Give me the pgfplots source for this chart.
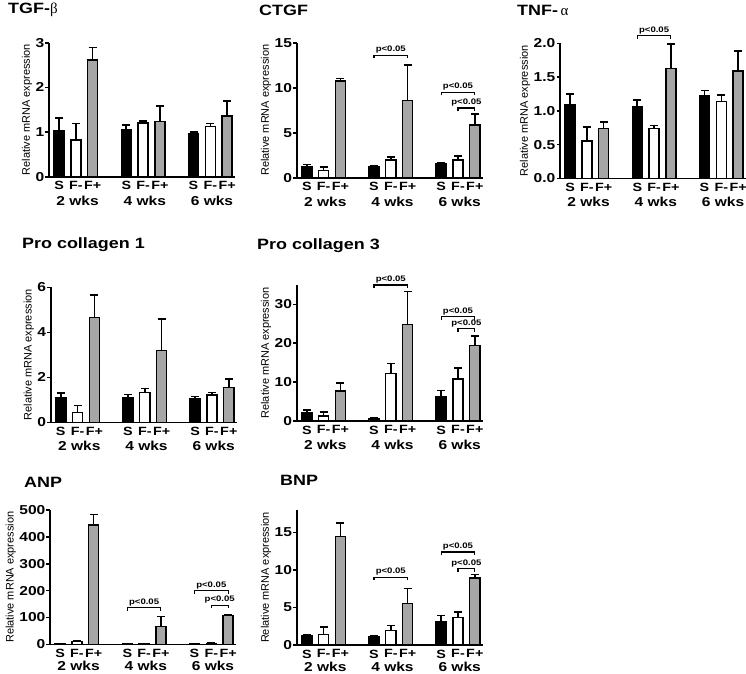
\documentclass[border=0pt]{standalone}
\usepackage{pgfplots}
\pgfplotsset{compat=1.18}
\usepackage{fontspec}
\setmainfont{Liberation Sans}
\newfontfamily\wide{Liberation Sans}[FakeStretch=1.2]
\newfontfamily\greek{Liberation Serif}
\definecolor{barg}{RGB}{166,166,166}

\newcommand{\sig}[4]{%
 \draw[line width=1.1bp] ([yshift=-3bp]axis cs:#1,#4) -- (axis cs:#1,#4) -- (axis cs:#2,#4) -- ([yshift=-3bp]axis cs:#2,#4);
 \node[font=\wide\bfseries\fontsize{8}{9}\selectfont, anchor=south, inner sep=1.5bp] at (axis cs:#3,#4) {p<0.05};}
\newcommand{\wks}[1][-24bp]{%
 \node[font=\wide\bfseries\fontsize{13}{14}\selectfont, inner sep=1bp] at (axis cs:1.1,0) [yshift=#1] {2 wks};
 \node[font=\wide\bfseries\fontsize{13}{14}\selectfont, inner sep=1bp] at (axis cs:5.1,0) [yshift=#1] {4 wks};
 \node[font=\wide\bfseries\fontsize{13}{14}\selectfont, inner sep=1bp] at (axis cs:9.1,0) [yshift=#1] {6 wks};}

\pgfplotsset{
 panel/.style={
  scale only axis, width=186bp, anchor=south west,
  axis x line*=bottom, axis y line*=left,
  axis line style={-, line width=1.6bp, black},
  xmin=-0.6, xmax=10.47, ymin=0, enlargelimits=false, clip=false,
  xtick={0,1,2,4,5,6,8,9,10},
  xticklabels={S,F-,F+,S,F-,F+,S,F-,F+},
  xtick style={draw=none},
  xticklabel style={font=\wide\bfseries\fontsize{12}{13}\selectfont, inner sep=1bp},
  ytick style={line width=1.6bp, black},
  tick align=outside, major tick length=3.5bp,
  yticklabel style={font=\wide\bfseries\fontsize{13}{14}\selectfont, inner sep=1bp},
  /pgf/number format/assume math mode=true,
  ylabel={Relative mRNA expression},
  ylabel style={font=\fontsize{11}{12}\selectfont, yshift=-1bp},
 },
 sbar/.style={ybar, bar width=0.6, bar shift=0pt, fill=#1, draw=black, line width=1.4bp,
   /pgfplots/error bars/y dir=plus, /pgfplots/error bars/y explicit,
   /pgfplots/error bars/error bar style={line width=1.6bp, black},
   /pgfplots/error bars/error mark options={black, line width=1.6bp, mark size=4bp, rotate=90}},
 sbar/.default=black,
}

\begin{document}
\begin{tikzpicture}
\useasboundingbox (0,0) rectangle (746bp,-674bp);

% Titles
\node[anchor=west, font=\wide\bfseries\fontsize{15}{16}\selectfont, inner sep=0] at (8bp,-10bp) {TGF-{\greek\mdseries β}};
\node[anchor=west, font=\wide\bfseries\fontsize{15}{16}\selectfont, inner sep=0] at (259bp,-10bp) {CTGF};
\node[anchor=west, font=\wide\bfseries\fontsize{15}{16}\selectfont, inner sep=0] at (517bp,-10bp) {TNF-\,{\greek\mdseries α}};
\node[anchor=west, font=\wide\bfseries\fontsize{15}{16}\selectfont, inner sep=0] at (22bp,-245bp) {Pro collagen 1};
\node[anchor=west, font=\wide\bfseries\fontsize{15}{16}\selectfont, inner sep=0] at (257bp,-246bp) {Pro collagen 3};
\node[anchor=west, font=\wide\bfseries\fontsize{15}{16}\selectfont, inner sep=0] at (24bp,-482bp) {ANP};
\node[anchor=west, font=\wide\bfseries\fontsize{15}{16}\selectfont, inner sep=0] at (280bp,-480bp) {BNP};

% TGF-beta
\begin{axis}[panel, at={(49bp,-176.7bp)}, height=134bp, ymax=3, ytick={0,1,2,3}]
\addplot[sbar=black] coordinates {(0,1.03) +- (0,0.28) (4,1.06) +- (0,0.10) (8,0.97) +- (0,0.03)};
\addplot[sbar=white] coordinates {(1,0.82) +- (0,0.37) (5,1.20) +- (0,0.05) (9,1.13) +- (0,0.06)};
\addplot[sbar=barg] coordinates {(2,2.61) +- (0,0.28) (6,1.24) +- (0,0.34) (10,1.36) +- (0,0.34)};
\wks
\end{axis}

% CTGF
\begin{axis}[panel, at={(296.7bp,-177.7bp)}, height=135bp, ymax=15, ytick={0,5,10,15}]
\addplot[sbar=black] coordinates {(0,1.22) +- (0,0.26) (4,1.22) +- (0,0.08) (8,1.59) +- (0,0.11)};
\addplot[sbar=white] coordinates {(1,0.78) +- (0,0.44) (5,1.96) +- (0,0.37) (9,1.96) +- (0,0.45)};
\addplot[sbar=barg] coordinates {(2,10.74) +- (0,0.30) (6,8.56) +- (0,3.96) (10,5.85) +- (0,1.22)};
\sig{4}{6}{5}{13.6}
\sig{8}{10}{9}{9.5}
\sig{9}{10}{9.5}{7.74}
\wks
\end{axis}

% TNF-alpha
\begin{axis}[panel, at={(560bp,-178.3bp)}, height=135bp, ymax=2, ytick={0,0.5,1,1.5,2},
  yticklabel style={/pgf/number format/.cd, fixed, fixed zerofill, precision=1}]
\addplot[sbar=black] coordinates {(0,1.09) +- (0,0.16) (4,1.06) +- (0,0.10) (8,1.22) +- (0,0.08)};
\addplot[sbar=white] coordinates {(1,0.55) +- (0,0.21) (5,0.74) +- (0,0.04) (9,1.14) +- (0,0.09)};
\addplot[sbar=barg] coordinates {(2,0.74) +- (0,0.09) (6,1.63) +- (0,0.36) (10,1.59) +- (0,0.30)};
\sig{4}{6}{5}{2.11}
\wks
\end{axis}

% Pro collagen 1
\begin{axis}[panel, at={(50.7bp,-422.3bp)}, height=135bp, ymax=6, ytick={0,2,4,6}]
\addplot[sbar=black] coordinates {(0,1.11) +- (0,0.18) (4,1.11) +- (0,0.13) (8,1.07) +- (0,0.07)};
\addplot[sbar=white] coordinates {(1,0.44) +- (0,0.30) (5,1.33) +- (0,0.18) (9,1.21) +- (0,0.12)};
\addplot[sbar=barg] coordinates {(2,4.65) +- (0,1.00) (6,3.19) +- (0,1.39) (10,1.56) +- (0,0.37)};
\wks
\end{axis}

% Pro collagen 3
\begin{axis}[panel, at={(296.7bp,-421bp)}, height=136bp, ymax=35, ytick={0,10,20,30}]
\addplot[sbar=black] coordinates {(0,2.16) +- (0,0.70) (4,0.69) +- (0,0.10) (8,6.29) +- (0,1.55)};
\addplot[sbar=white] coordinates {(1,1.29) +- (0,1.10) (5,12.16) +- (0,2.60) (9,10.86) +- (0,2.76)};
\addplot[sbar=barg] coordinates {(2,7.76) +- (0,2.00) (6,24.83) +- (0,8.45) (10,19.48) +- (0,2.33)};
\sig{4}{6}{5}{35.0}
\sig{8}{10}{9}{26.8}
\sig{9}{10}{9.5}{23.7}
\wks
\end{axis}

% ANP
\begin{axis}[panel, at={(50bp,-644.3bp)}, height=134.3bp, ymax=500, ytick={0,100,200,300,400,500}]
\addplot[sbar=black] coordinates {(0,1) +- (0,0.3) (4,1) +- (0,0.3) (8,1) +- (0,0.3)};
\addplot[sbar=white] coordinates {(1,10) +- (0,2) (5,2) +- (0,0.5) (9,3) +- (0,1)};
\addplot[sbar=barg] coordinates {(2,444) +- (0,40) (6,66) +- (0,37) (10,107) +- (0,3)};
\sig{4}{6}{5}{136}
\sig{8}{10}{9}{200}
\sig{9}{10}{9.5}{146}
\wks[-21.5bp]
\end{axis}

% BNP
\begin{axis}[panel, at={(296.7bp,-645bp)}, height=135bp, ymax=18, ytick={0,5,10,15}]
\addplot[sbar=black] coordinates {(0,1.25) +- (0,0.05) (4,1.12) +- (0,0.05) (8,3.13) +- (0,0.81)};
\addplot[sbar=white] coordinates {(1,1.43) +- (0,0.94) (5,1.97) +- (0,0.63) (9,3.67) +- (0,0.72)};
\addplot[sbar=barg] coordinates {(2,14.46) +- (0,1.80) (6,5.55) +- (0,1.97) (10,8.96) +- (0,0.45)};
\sig{4}{6}{5}{9.05}
\sig{8}{10}{9}{12.4}
\sig{9}{10}{9.5}{10.17}
\wks[-21.5bp]
\end{axis}
\end{tikzpicture}
\end{document}
